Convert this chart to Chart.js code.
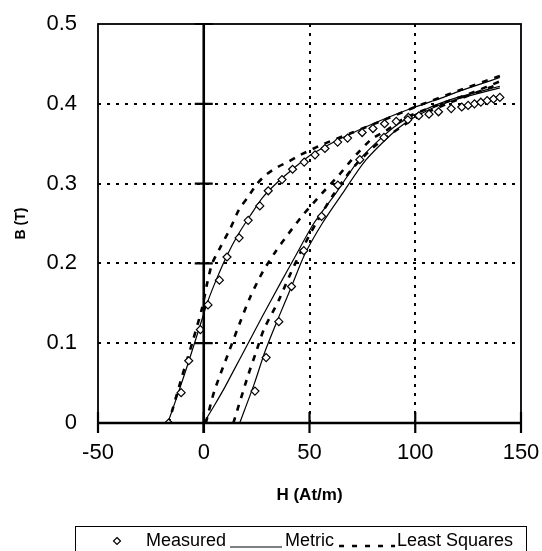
<!DOCTYPE html>
<html>
<head>
<meta charset="utf-8">
<script src="https://cdn.jsdelivr.net/npm/chart.js@4.4.1/dist/chart.umd.min.js"></script>
<style>
  html, body { margin: 0; padding: 0; background: #fff; }
  #wrap { width: 542px; height: 551px; }
</style>
</head>
<body>
<div id="wrap"><canvas id="bh"></canvas></div>
<script>
// ---- data ----
const xTicks = [-50, 0, 50, 100, 150];
const yTicks = [0, 0.1, 0.2, 0.3, 0.4, 0.5];

// measured points (descending branch, then ascending branch)
const measDownH = [-16.6, -10.7, -7.1, -1.6, 2, 7.4, 11, 16.7, 21, 26.5, 30.5, 37, 42, 47.5, 52.6, 57.3,
                   63.3, 68, 74.9, 80, 85.5, 91, 96.7, 101.7, 106.5, 111, 117, 122, 125, 128, 131, 134, 137, 140];
const measDownB = [0, 0.038, 0.078, 0.117, 0.148, 0.179, 0.208, 0.232, 0.254, 0.272, 0.291, 0.305, 0.318, 0.327, 0.336, 0.344,
                   0.352, 0.357, 0.364, 0.369, 0.375, 0.378, 0.383, 0.385, 0.387, 0.39, 0.394, 0.396, 0.398, 0.4, 0.402, 0.404, 0.406, 0.408];
const measUpH = [24.2, 29.5, 35.5, 41.5, 47.3, 55.7, 63.4, 73.8, 85.2, 96.5];
const measUpB = [0.04, 0.082, 0.127, 0.171, 0.216, 0.259, 0.298, 0.33, 0.358, 0.38];

// metric model
const metricDownH = [140, 130, 120, 110, 100, 90, 80, 70, 60, 50, 42, 35, 28, 22, 16, 11, 6, 2, -2, -7, -12, -17];
const metricDownB = [0.433, 0.424, 0.415, 0.405, 0.396, 0.386, 0.375, 0.363, 0.35, 0.335, 0.318, 0.302, 0.283, 0.26, 0.235, 0.21, 0.18, 0.153, 0.12, 0.078, 0.038, 0];
const metricUp1H = [0, 5, 10, 14, 21, 28, 36, 43.5, 52, 62.5, 73.6, 90, 104, 120, 140];
const metricUp1B = [0, 0.022, 0.045, 0.065, 0.1, 0.135, 0.174, 0.21, 0.25, 0.288, 0.33, 0.371, 0.392, 0.408, 0.422];
const metricUp2H = [17, 24, 29, 35.5, 41.5, 47.5, 56, 65.7, 76.8, 92.7, 106, 120, 140];
const metricUp2B = [0, 0.05, 0.09, 0.133, 0.171, 0.21, 0.25, 0.288, 0.33, 0.371, 0.392, 0.406, 0.42];

// least squares model
const lsDownH = [140, 120, 100, 85.4, 69.4, 57, 45.7, 39.7, 35, 29.4, 25.3, 20.6, 16.6, 12.6, 8, 4, 1.6, -0.8, -5.5, -10.3, -16.6];
const lsDownB = [0.435, 0.416, 0.396, 0.38, 0.363, 0.35, 0.336, 0.327, 0.321, 0.311, 0.3, 0.282, 0.267, 0.244, 0.221, 0.2, 0.175, 0.144, 0.1, 0.058, 0];
const lsUp1H = [1, 5, 12, 17, 22, 28, 34, 40, 47, 56, 64, 70, 79, 86, 95, 110, 125, 140];
const lsUp1B = [0, 0.04, 0.09, 0.125, 0.158, 0.19, 0.215, 0.237, 0.261, 0.288, 0.311, 0.33, 0.355, 0.366, 0.382, 0.398, 0.412, 0.428];
const lsUp2H = [14, 21, 24.5, 28.4, 35.5, 40.3, 46, 53, 61, 70, 80, 90, 100, 115, 140];
const lsUp2B = [0, 0.06, 0.087, 0.117, 0.154, 0.183, 0.215, 0.25, 0.285, 0.318, 0.345, 0.365, 0.382, 0.4, 0.425];

const seriesNames = ['Measured', 'Metric', 'Least Squares'];

const pts = (hs, bs) => hs.map((h, i) => ({ x: h, y: bs[i] }));

const FONT = "'Liberation Sans', Arial, Helvetica, sans-serif";

const lineSet = (label, hs, bs, dashed) => ({
    label,
    data: pts(hs, bs),
    showLine: true,
    pointRadius: 0,
    borderColor: '#000',
    borderWidth: dashed ? 2.6 : 1.2,
    borderDash: dashed ? [6, 7] : [],
    tension: 0.25
});

// ---- frame, crossing axis at H=0, tick marks and boxed legend ----
const decorations = {
    id: 'decorations',
    afterDatasetsDraw(chart) {
        const { ctx, chartArea: a, scales: { x, y } } = chart;
        const x0 = x.getPixelForValue(0);
        ctx.save();
        ctx.strokeStyle = '#000';
        ctx.lineCap = 'butt';

        // plot frame
        ctx.lineWidth = 1.8;
        ctx.strokeRect(a.left, a.top, a.right - a.left, a.bottom - a.top);

        // bottom axis (thicker) and vertical axis at H=0
        ctx.lineWidth = 2.6;
        ctx.beginPath();
        ctx.moveTo(a.left, a.bottom);
        ctx.lineTo(a.right, a.bottom);
        ctx.moveTo(x0, a.top);
        ctx.lineTo(x0, a.bottom + 10);
        ctx.stroke();

        // ticks across H=0 axis
        ctx.lineWidth = 2.2;
        ctx.beginPath();
        yTicks.slice(1).forEach(v => {
            const py = y.getPixelForValue(v);
            ctx.moveTo(x0 - 9, py);
            ctx.lineTo(x0 + 9, py);
        });
        // ticks across bottom axis
        xTicks.forEach(v => {
            const px = x.getPixelForValue(v);
            ctx.moveTo(px, a.bottom - 11);
            ctx.lineTo(px, a.bottom + 10);
        });
        ctx.stroke();
        ctx.restore();
    },
    afterDraw(chart) {
        const { ctx } = chart;
        const top = 526, cy = 541;
        ctx.save();
        ctx.strokeStyle = '#000';
        ctx.lineWidth = 1;
        ctx.strokeRect(75.5, top + 0.5, 451, 40);

        ctx.fillStyle = '#000';
        ctx.font = '18px ' + FONT;
        ctx.textBaseline = 'middle';
        ctx.textAlign = 'left';

        // Measured: diamond marker
        const d = 3.5, mx = 117;
        ctx.lineWidth = 1.2;
        ctx.beginPath();
        ctx.moveTo(mx, cy - d);
        ctx.lineTo(mx + d, cy);
        ctx.lineTo(mx, cy + d);
        ctx.lineTo(mx - d, cy);
        ctx.closePath();
        ctx.stroke();
        let cx = 146;
        ctx.fillText(seriesNames[0], cx, cy);
        cx += ctx.measureText(seriesNames[0]).width + 4;

        // Metric: solid line
        ctx.lineWidth = 1.2;
        ctx.beginPath();
        ctx.moveTo(cx, cy + 6);
        ctx.lineTo(cx + 52, cy + 6);
        ctx.stroke();
        cx += 55;
        ctx.fillText(seriesNames[1], cx, cy);
        cx += ctx.measureText(seriesNames[1]).width + 5;

        // Least squares: dashed line
        ctx.lineWidth = 2.6;
        ctx.setLineDash([5, 8]);
        ctx.beginPath();
        ctx.moveTo(cx, cy + 5);
        ctx.lineTo(cx + 56, cy + 5);
        ctx.stroke();
        ctx.setLineDash([]);
        cx += 58;
        ctx.fillText(seriesNames[2], cx, cy);
        ctx.restore();
    }
};

const inner = v => v > -50 && v < 150 && v !== 0;

new Chart(document.getElementById('bh').getContext('2d'), {
    type: 'scatter',
    data: {
        datasets: [
            {
                label: seriesNames[0],
                data: pts(measDownH.concat(measUpH), measDownB.concat(measUpB)),
                pointStyle: 'rectRot',
                pointRadius: 4,
                pointBorderWidth: 1.2,
                pointBorderColor: '#000',
                pointBackgroundColor: '#fff',
                showLine: false
            },
            lineSet(seriesNames[1], metricDownH, metricDownB, false),
            lineSet(seriesNames[1], metricUp1H, metricUp1B, false),
            lineSet(seriesNames[1], metricUp2H, metricUp2B, false),
            lineSet(seriesNames[2], lsDownH, lsDownB, true),
            lineSet(seriesNames[2], lsUp1H, lsUp1B, true),
            lineSet(seriesNames[2], lsUp2H, lsUp2B, true)
        ]
    },
    options: {
        responsive: true,
        maintainAspectRatio: false,
        animation: false,
        layout: { padding: { left: 0, right: 21, top: 24, bottom: 0 } },
        plugins: {
            legend: { display: false },
            tooltip: { enabled: false }
        },
        scales: {
            x: {
                type: 'linear',
                min: -50,
                max: 150,
                afterBuildTicks: s => { s.ticks = xTicks.map(v => ({ value: v })); },
                afterFit: s => { s.height = 128; s.paddingLeft = 0; s.paddingRight = 0; },
                border: { display: false, dash: [3, 6] },
                grid: {
                    drawTicks: false,
                    lineWidth: 2,
                    color: c => inner(c.tick.value) ? '#000' : 'rgba(0,0,0,0)'
                },
                ticks: {
                    padding: 17,
                    color: '#000',
                    font: { family: FONT, size: 22 }
                },
                title: {
                    display: true,
                    text: 'H (At/m)',
                    color: '#000',
                    font: { family: FONT, size: 17, weight: 'bold' },
                    padding: { top: 0, bottom: 45 }
                }
            },
            y: {
                type: 'linear',
                min: 0,
                max: 0.5,
                afterBuildTicks: s => { s.ticks = yTicks.map(v => ({ value: v })); },
                afterFit: s => { s.width = 98; s.paddingTop = 0; s.paddingBottom = 0; },
                border: { display: false, dash: [3, 6] },
                grid: {
                    drawTicks: false,
                    lineWidth: 2,
                    color: c => (c.tick.value > 0.05 && c.tick.value < 0.45) ? '#000' : 'rgba(0,0,0,0)'
                },
                ticks: {
                    padding: 21,
                    color: '#000',
                    font: { family: FONT, size: 22 },
                    callback: v => v === 0 ? '0' : v.toFixed(1)
                },
                title: {
                    display: true,
                    text: 'B (T)',
                    color: '#000',
                    font: { family: FONT, size: 14, weight: 'bold' },
                    padding: { top: 13, bottom: 0 }
                }
            }
        }
    },
    plugins: [decorations]
});
</script>
</body>
</html>
